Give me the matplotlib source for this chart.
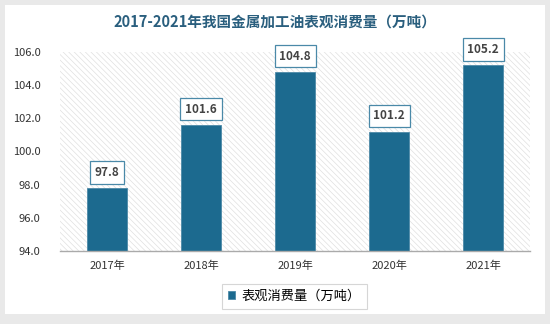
import matplotlib.pyplot as plt
from matplotlib.patches import Rectangle
import numpy as np

plt.rcParams['font.family'] = ['Noto Sans CJK SC', 'DejaVu Sans']
plt.rcParams['hatch.linewidth'] = 0.5

years = ['2017年', '2018年', '2019年', '2020年', '2021年']
values = [97.8, 101.6, 104.8, 101.2, 105.2]
title = '2017-2021年我国金属加工油表观消费量（万吨）'
series_name = '表观消费量（万吨）'

bar_color = '#1c6a8f'

fig = plt.figure(figsize=(5.5, 3.24), dpi=100)
fig.patch.set_facecolor('#e9e9e9')
# white card behind everything
bg = fig.add_axes([0.009, 0.03, 0.982, 0.955], zorder=-1)
bg.set_facecolor('white')
bg.set_xticks([])
bg.set_yticks([])
for s in bg.spines.values():
    s.set_visible(False)

ax = fig.add_axes([0.109, 0.225, 0.855, 0.615])
ax.set_facecolor('white')
ax.add_patch(Rectangle((0, 0), 1, 1, transform=ax.transAxes, facecolor='white',
                       edgecolor='#e0e0e0', hatch='\\\\\\\\\\\\', linewidth=0, zorder=0))

x = np.arange(len(years))
bars = ax.bar(x, values, width=0.43, color=bar_color, edgecolor='#4d8aa8',
              linewidth=0.6, zorder=2, label=series_name)

for xi, v in zip(x, values):
    ax.text(xi, v + 0.55, f'{v:.1f}', ha='center', va='bottom', fontsize=8.5,
            fontweight='bold', color='#444444', zorder=3,
            bbox=dict(boxstyle='square,pad=0.4', facecolor='white',
                      edgecolor='#4a89a8', linewidth=0.9))

ax.set_ylim(94, 106)
ax.set_xlim(-0.5, 4.5)
ax.set_yticks(np.arange(94, 106.1, 2))
ax.set_yticklabels([f'{t:.1f}' for t in np.arange(94, 106.1, 2)])
ax.set_xticks(x)
ax.set_xticklabels(years)
ax.tick_params(axis='both', length=0, labelsize=8, colors='#333333')
ax.tick_params(axis='y', pad=14)
ax.tick_params(axis='x', pad=7)
for s in ['top', 'right', 'left']:
    ax.spines[s].set_visible(False)
ax.spines['bottom'].set_color('#aaaaaa')
ax.spines['bottom'].set_linewidth(1.0)

fig.text(0.5, 0.935, title, ha='center', va='center', fontsize=10.5,
         fontweight='bold', color='#2a5f7e')

leg = fig.legend(handles=[bars], labels=[series_name], loc='center',
                 bbox_to_anchor=(0.535, 0.085), fontsize=9.5, frameon=True,
                 fancybox=False, handlelength=0.55, handleheight=0.55,
                 handletextpad=0.5, borderpad=0.45)
leg.get_frame().set_edgecolor('#cccccc')
leg.get_frame().set_linewidth(0.8)

fig.savefig('out.png', dpi=100, facecolor=fig.get_facecolor())
